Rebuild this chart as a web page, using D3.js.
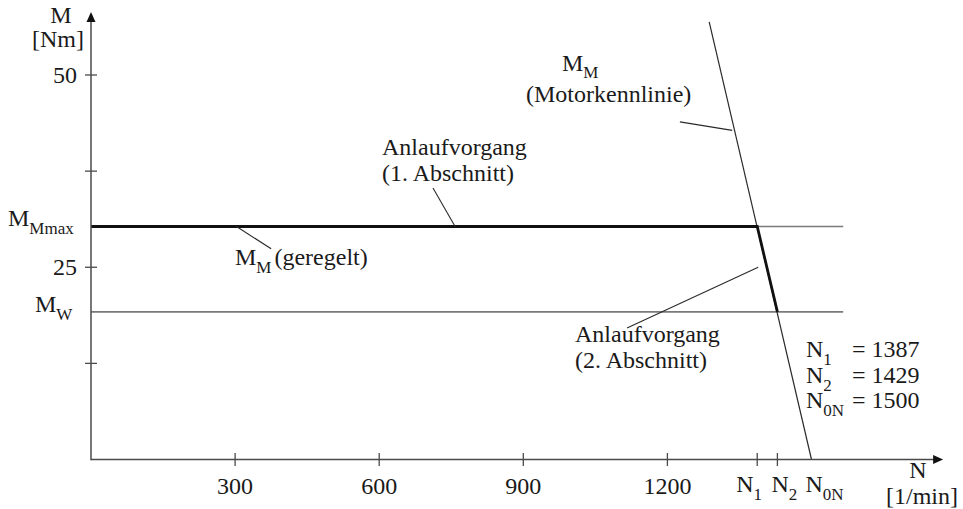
<!DOCTYPE html>
<html>
<head>
<meta charset="utf-8">
<script src="https://cdn.jsdelivr.net/npm/d3@7"></script>
<style>
  html, body { margin: 0; padding: 0; background: #fff; }
  svg text { font-family: "Liberation Serif", "DejaVu Serif", serif; fill: #1a1a1a; }
</style>
</head>
<body>
<svg id="chart" width="963" height="509"></svg>
<script>
// Speed axis ticks [1/min] and torque axis ticks [Nm]
const speedTicks = [300, 600, 900, 1200];
const torqueTicks = [12.5, 25, 37.5, 50];
const torqueTickLabels = { 25: "25", 50: "50" };

// Characteristic speeds
const speedMarks = [
  { name: "N", sub: "1", value: 1387 },
  { name: "N", sub: "2", value: 1429 },
  { name: "N", sub: "0N", value: 1500 }
];

// Torque levels [Nm]
const torqueMax = 30.3;   // M_Mmax
const torqueLoad = 19.2;  // M_W

// Motor characteristic (straight line to the no-load speed)
const motorLine = [
  { n: 1287, m: 56.9 },
  { n: 1500, m: 0 }
];

// Controlled start-up torque (phase 1 constant, phase 2 along the motor line)
const controlledTorque = [
  { n: 0, m: torqueMax },
  { n: 1387, m: torqueMax },
  { n: 1429, m: torqueLoad }
];

// End of the horizontal reference lines
const refLineEnd = 1566;

// Axis extents including arrow tips
const speedAxisEnd = 1774;
const torqueAxisEnd = 58.2;

const svg = d3.select("#chart");
const x = d3.scaleLinear().domain([0, 1500]).range([91, 811.5]);
const y = d3.scaleLinear().domain([0, 50]).range([459.5, 75]);

const line = d3.line().x(d => x(d.n)).y(d => y(d.m));

// Reference lines M_Mmax and M_W
[torqueMax, torqueLoad].forEach(m => {
  svg.append("path")
    .attr("d", line([{ n: 0, m }, { n: refLineEnd, m }]))
    .attr("stroke", "#7a7a7a").attr("stroke-width", 1.6).attr("fill", "none");
});

// Motor characteristic
svg.append("path")
  .attr("d", line(motorLine))
  .attr("stroke", "#2a2a2a").attr("stroke-width", 1.2).attr("fill", "none");

// Controlled torque (thick)
svg.append("path")
  .attr("d", line(controlledTorque))
  .attr("stroke", "#111").attr("stroke-width", 2.8).attr("fill", "none")
  .attr("stroke-linejoin", "miter");

// Axes
const axisColor = "#4a4a4a";
svg.append("line")
  .attr("x1", x(0)).attr("y1", y(0)).attr("x2", x(speedAxisEnd) - 6).attr("y2", y(0))
  .attr("stroke", axisColor).attr("stroke-width", 1.5);
svg.append("line")
  .attr("x1", x(0)).attr("y1", y(0) + 0.75).attr("x2", x(0)).attr("y2", y(torqueAxisEnd) + 6)
  .attr("stroke", axisColor).attr("stroke-width", 1.5);

// Arrowheads
const xt = x(speedAxisEnd), yt = y(torqueAxisEnd);
svg.append("path")
  .attr("d", `M${xt},${y(0)} L${xt - 10},${y(0) - 4.5} L${xt - 10},${y(0) + 4.5} Z`)
  .attr("fill", "#111");
svg.append("path")
  .attr("d", `M${x(0)},${yt} L${x(0) - 4.5},${yt + 10} L${x(0) + 4.5},${yt + 10} Z`)
  .attr("fill", "#111");

const fs = 24, subFs = 17, subDy = 8;

// Text with subscript helper
function subText(xp, yp, main, sub, dy) {
  const t = svg.append("text")
    .attr("x", xp).attr("y", yp).attr("font-size", fs);
  t.append("tspan").text(main);
  t.append("tspan").attr("font-size", subFs).attr("dy", dy || subDy).text(sub);
  return t;
}

// Speed axis ticks and labels
speedTicks.forEach(v => {
  svg.append("line")
    .attr("x1", x(v)).attr("x2", x(v)).attr("y1", y(0) - 6.5).attr("y2", y(0) + 6.5)
    .attr("stroke", axisColor).attr("stroke-width", 1.3);
  svg.append("text")
    .attr("x", x(v)).attr("y", 494).attr("text-anchor", "middle")
    .attr("font-size", fs).text(v);
});

speedMarks.forEach(s => {
  if (s.value !== 1500) {
    svg.append("line")
      .attr("x1", x(s.value)).attr("x2", x(s.value)).attr("y1", y(0) - 6.5).attr("y2", y(0) + 6.5)
      .attr("stroke", axisColor).attr("stroke-width", 1.3);
  }
});
subText(x(1387) - 21, 492, "N", "1");
subText(x(1429) - 6, 492, "N", "2");
subText(x(1500) - 6, 492, "N", "0N");

// Torque axis ticks and labels
torqueTicks.forEach(v => {
  svg.append("line")
    .attr("x1", x(0) - 6).attr("x2", x(0) + 6).attr("y1", y(v)).attr("y2", y(v))
    .attr("stroke", axisColor).attr("stroke-width", 1.3);
  if (torqueTickLabels[v]) {
    svg.append("text")
      .attr("x", 77).attr("y", y(v) + 8).attr("text-anchor", "end")
      .attr("font-size", fs).text(torqueTickLabels[v]);
  }
});

// Axis titles
svg.append("text").attr("x", 61).attr("y", 23).attr("text-anchor", "middle")
  .attr("font-size", fs).text("M");
svg.append("text").attr("x", 58).attr("y", 47).attr("text-anchor", "middle")
  .attr("font-size", fs).text("[Nm]");
svg.append("text").attr("x", 918).attr("y", 478).attr("text-anchor", "middle")
  .attr("font-size", fs).text("N");
svg.append("text").attr("x", 922).attr("y", 504).attr("text-anchor", "middle")
  .attr("font-size", fs).text("[1/min]");

// Torque level labels on the axis
subText(8, y(torqueMax), "M", "Mmax");
subText(35, y(torqueLoad), "M", "W");

// Annotation leaders
const leaders = [
  [{ n: 1226, m: 43.9 }, { n: 1335, m: 42.8 }],
  [{ n: 712, m: 35.3 }, { n: 758, m: torqueMax }],
  [{ n: 303, m: torqueMax }, { n: 375, m: 27.4 }],
  [{ n: 1116, m: 17.1 }, { n: 1389, m: 25.0 }]
];
leaders.forEach(l => {
  svg.append("path").attr("d", line(l))
    .attr("stroke", "#2a2a2a").attr("stroke-width", 1.1).attr("fill", "none");
});

// Annotation texts
subText(562, 71, "M", "M", 7);
svg.append("text").attr("x", 526).attr("y", 102).attr("font-size", fs).text("(Motorkennlinie)");

svg.append("text").attr("x", 382).attr("y", 155).attr("font-size", fs).text("Anlaufvorgang");
svg.append("text").attr("x", 382).attr("y", 181).attr("font-size", fs).text("(1. Abschnitt)");

const g = subText(235, 265, "M", "M");
g.append("tspan").attr("dy", -subDy).attr("dx", 3).attr("font-size", fs).text("(geregelt)");

svg.append("text").attr("x", 575).attr("y", 342).attr("font-size", fs).text("Anlaufvorgang");
svg.append("text").attr("x", 575).attr("y", 368).attr("font-size", fs).text("(2. Abschnitt)");

// Characteristic speed values
speedMarks.forEach((s, i) => {
  const yy = 357 + i * 25.5;
  subText(806, yy, s.name, s.sub);
  svg.append("text").attr("x", 852).attr("y", yy).attr("font-size", fs).text("= " + s.value);
});
</script>
</body>
</html>
